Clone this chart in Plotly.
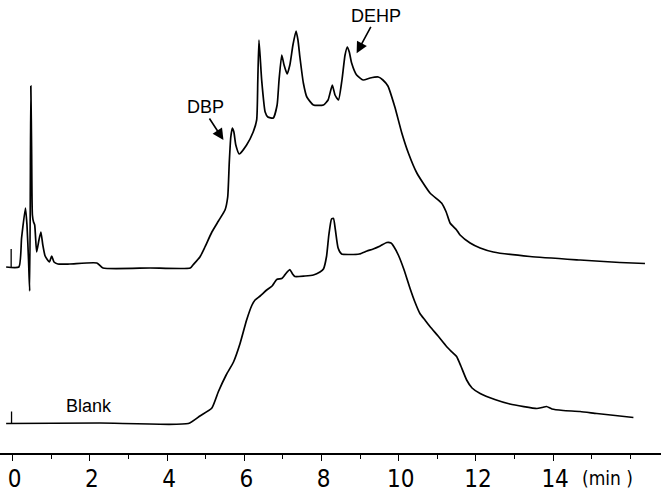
import plotly.graph_objects as go

# ---- data (time in minutes, detector response in arbitrary units above each trace baseline) ----
sample_time = [-0.17, 0.16, 0.23, 0.33, 0.37, 0.41, 0.44, 0.47, 0.49, 0.51, 0.54, 0.57, 0.62, 0.68,
               0.73, 0.78, 0.84, 0.95, 1.01, 1.07, 1.17, 1.48, 2.18, 2.34, 3.56, 4.60, 4.67, 4.85,
               4.98, 5.16, 5.33, 5.50, 5.57, 5.61, 5.65, 5.69, 5.73, 5.78, 5.87, 6.06, 6.23, 6.32,
               6.35, 6.38, 6.45, 6.54, 6.61, 6.75, 6.85, 6.90, 6.97, 7.03, 7.11, 7.18, 7.26, 7.34,
               7.39, 7.44, 7.53, 7.62, 7.79, 8.05, 8.17, 8.28, 8.35, 8.44, 8.53, 8.61, 8.67, 8.72,
               8.78, 8.91, 9.08, 9.26, 9.47, 9.59, 9.72, 9.90, 10.08, 10.25, 10.47, 10.81, 11.11,
               11.23, 11.33, 11.50, 11.59, 11.85, 12.11, 12.45, 13.40, 14.70, 15.73, 16.38]
sample_signal = [1, 1, 30, 60, 43, 8, -23, 182, 118, 53, 46, 43, 16, 28,
                 36, 23, 12, 6, 12, 6, 4, 4, 5, 0, 0, 0, 3, 11,
                 21, 36, 47, 58, 71, 105, 131, 140, 136, 123, 114, 123, 136, 148,
                 188, 228, 188, 156, 151, 150, 163, 188, 213, 203, 194, 203, 223, 237,
                 228, 211, 185, 171, 163, 163, 168, 183, 173, 168, 188, 213, 221, 216,
                 205, 193, 188, 190, 191, 188, 182, 161, 135, 115, 95, 75, 65,
                 56, 45, 38, 33, 25, 20, 16, 11.5, 8, 5.5, 4.5]

blank_time = [-0.17, 2.26, 4.55, 4.85, 5.16, 5.33, 5.53, 5.72, 5.89, 6.06, 6.20, 6.28, 6.41, 6.58,
              6.72, 6.84, 6.97, 7.03, 7.11, 7.18, 7.25, 7.31, 7.57, 7.79, 7.96, 8.05, 8.13, 8.19,
              8.26, 8.31, 8.36, 8.43, 8.52, 8.74, 8.98, 9.18, 9.34, 9.52, 9.69, 9.80, 9.88, 9.99,
              10.14, 10.29, 10.42, 10.55, 10.68, 10.81, 11.02, 11.24, 11.38, 11.50, 11.61, 11.76,
              11.90, 12.11, 12.49, 12.88, 13.58, 13.71, 13.83, 13.97, 14.26, 14.70, 15.13, 15.61, 16.08]
blank_signal = [0, 0.5, 0, 7.5, 15.5, 32, 48.5, 61.5, 80, 103.5, 118.5, 123.5, 127.5, 133.5,
                137.5, 144, 145, 147.5, 151.5, 154, 149.5, 147, 147.5, 148.5, 151.5, 154.5, 167, 188.5,
                204.5, 205, 193.5, 175.5, 169.5, 169, 169.5, 172.5, 174.5, 177.5, 181, 180.5, 176.5, 168.5,
                153.5, 135.5, 121.5, 110, 103.5, 97, 87.5, 77, 71.5, 67, 57.5, 43.5,
                35.5, 30, 24, 19.5, 15, 16, 17, 14.5, 13, 12, 10, 8, 6]

injection_time = [-0.04, -0.03]
injection_height = [19, 12]

trace_offsets = [224, 68.5]          # vertical position of the sample and blank baselines
tick_vals = [0, 2, 4, 6, 8, 10, 12, 14]
tick_text = ["0", "2", "4", "6", "8", "10", "12", "14"]

line_style = dict(color="black", width=1.7, shape="spline", smoothing=0.5)

fig = go.Figure()
fig.add_trace(go.Scatter(x=sample_time, y=[s + trace_offsets[0] for s in sample_signal],
                         mode="lines", line=line_style, showlegend=False, hoverinfo="skip"))
fig.add_trace(go.Scatter(x=blank_time, y=[s + trace_offsets[1] for s in blank_signal],
                         mode="lines", line=line_style, showlegend=False, hoverinfo="skip"))
for t, h, off in zip(injection_time, injection_height, trace_offsets):
    fig.add_trace(go.Scatter(x=[t, t], y=[off, off + h], mode="lines",
                             line=dict(color="black", width=1.3), showlegend=False, hoverinfo="skip"))

label_font = dict(family="Liberation Sans, Arial, sans-serif", size=18, color="black")
fig.add_annotation(x=4.99, y=385.5, text="DBP", showarrow=False, font=label_font)
fig.add_annotation(x=5.46, y=352, ax=-15, ay=-23, text="", showarrow=True,
                   arrowhead=2, arrowsize=1.4, arrowwidth=1.6, arrowcolor="black")
fig.add_annotation(x=9.41, y=476, text="DEHP", showarrow=False, font=label_font)
fig.add_annotation(x=8.91, y=438.7, ax=15, ay=-28, text="", showarrow=True,
                   arrowhead=2, arrowsize=1.4, arrowwidth=1.6, arrowcolor="black")
fig.add_annotation(x=1.98, y=86.5, text="Blank", showarrow=False, font=label_font)
fig.add_annotation(x=15.42, y=14, text="(min )", showarrow=False,
                   font=dict(family="Liberation Sans Narrow, DejaVu Sans Condensed, sans-serif",
                             size=19, color="black"))

fig.update_layout(
    width=661, height=492,
    margin=dict(l=0, r=0, t=0, b=0, pad=0, autoexpand=False),
    paper_bgcolor="white", plot_bgcolor="white",
    xaxis=dict(range=[-0.329, 16.795], anchor="free", position=0.0772, automargin=False,
               showgrid=False, zeroline=False, showline=True, linecolor="black", linewidth=1.5,
               ticks="outside", ticklen=6, tickwidth=1.3, tickcolor="black",
               tickvals=tick_vals, ticktext=tick_text, ticklabelstandoff=-3, ticklabelshift=2,
               minor=dict(dtick=1, tick0=0, ticks="outside", ticklen=4, tickwidth=1.2,
                          tickcolor="black", showgrid=False),
               tickfont=dict(family="Liberation Sans Narrow, DejaVu Sans Condensed, sans-serif",
                             size=24, color="black")),
    yaxis=dict(range=[0, 492], visible=False, automargin=False),
)

fig.write_html("out.html")
